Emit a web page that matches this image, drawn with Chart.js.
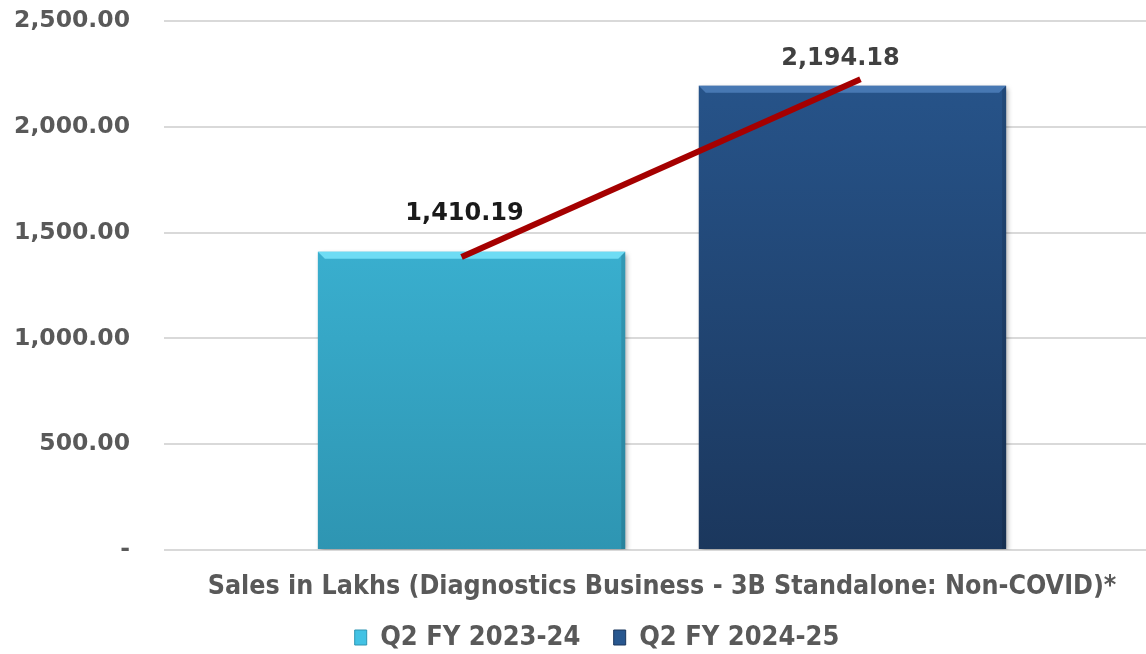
<!DOCTYPE html>
<html>
<head>
<meta charset="utf-8">
<script src="https://cdn.jsdelivr.net/npm/chart.js@4"></script>
<style>
  html, body { margin: 0; padding: 0; background: #fff; }
  #wrap { width: 1146px; height: 654px; }
</style>
</head>
<body>
<div id="wrap"><canvas id="myChart" width="1146" height="654"></canvas></div>
<script>
const categories = ["Sales in Lakhs (Diagnostics Business - 3B Standalone: Non-COVID)*"];
const seriesNames = ["Q2 FY 2023-24", "Q2 FY 2024-25"];
const salesPrev = [1410.19];
const salesCurr = [2194.18];
const yTicks = [0, 500, 1000, 1500, 2000, 2500];
// red trend line: start/end values relative to the two bars
const trendValues = [1385, 2225];

const gradStops = [
  ["#42c2e4", "#2e95b2"],
  ["#28578f", "#1b375d"]
];

function fmt(v) {
  if (v === 0) return "-";
  return v.toLocaleString("en-US", { minimumFractionDigits: 2, maximumFractionDigits: 2 });
}

function barGradient(ctx, idx) {
  const area = ctx.chart.chartArea;
  if (!area) return gradStops[idx][0];
  const g = ctx.chart.ctx.createLinearGradient(0, area.top, 0, area.bottom);
  g.addColorStop(0, gradStops[idx][0]);
  g.addColorStop(1, gradStops[idx][1]);
  return g;
}

const barDeco = {
  id: "barDeco",
  afterLayout(chart) {
    // legend sits a little right of centre in the original
    chart.legend.left += 24;
    chart.legend.right += 24;
  },
  beforeDatasetDraw(chart, args) {
    const c = chart.ctx;
    c.save();
    c.shadowColor = "rgba(0,0,0,0.35)";
    c.shadowBlur = 5;
    c.shadowOffsetX = 2;
    c.shadowOffsetY = 2;
  },
  afterDatasetDraw(chart, args) {
    const c = chart.ctx;
    c.restore();
    const tops = ["rgba(120,228,250,0.85)", "rgba(80,130,190,0.8)"];
    args.meta.data.forEach(bar => {
      const l = bar.x - bar.width / 2, r = bar.x + bar.width / 2;
      c.save();
      c.fillStyle = tops[args.index];
      c.beginPath();
      c.moveTo(l, bar.y);
      c.lineTo(r, bar.y);
      c.lineTo(r - 7, bar.y + 7);
      c.lineTo(l + 7, bar.y + 7);
      c.closePath();
      c.fill();
      c.fillStyle = "rgba(0,0,0,0.12)";
      c.beginPath();
      c.moveTo(r, bar.y);
      c.lineTo(r, bar.base);
      c.lineTo(r - 4, bar.base);
      c.lineTo(r - 4, bar.y + 4);
      c.closePath();
      c.fill();
      c.restore();
    });
  },
  afterDatasetsDraw(chart) {
    const c = chart.ctx;
    const y = chart.scales.y;
    const b0 = chart.getDatasetMeta(0).data[0];
    const b1 = chart.getDatasetMeta(1).data[0];
    // trend line
    c.save();
    c.strokeStyle = "#a50000";
    c.lineWidth = 6;
    c.beginPath();
    c.moveTo(b0.x - 10, y.getPixelForValue(trendValues[0]));
    c.lineTo(b1.x + 8, y.getPixelForValue(trendValues[1]));
    c.stroke();
    // value labels
    c.font = "bold 24px 'DejaVu Sans'";
    c.textAlign = "center";
    c.textBaseline = "middle";
    c.fillStyle = "#1a1a1a";
    c.fillText(fmt(salesPrev[0]), b0.x - 7, b0.y - 38);
    c.fillStyle = "#404040";
    c.fillText(fmt(salesCurr[0]), b1.x - 12, b1.y - 27);
    c.restore();
  }
};

const config = {
  type: "bar",
  data: {
    labels: categories,
    datasets: [
      {
        label: seriesNames[0],
        data: salesPrev,
        backgroundColor: ctx => barGradient(ctx, 0),
        categoryPercentage: 0.787,
        barPercentage: 0.807
      },
      {
        label: seriesNames[1],
        data: salesCurr,
        backgroundColor: ctx => barGradient(ctx, 1),
        categoryPercentage: 0.787,
        barPercentage: 0.807
      }
    ]
  },
  options: {
    responsive: false,
    animation: false,
    layout: { padding: { top: 21, right: 0, left: 0, bottom: -7 } },
    plugins: {
      tooltip: { enabled: false },
      legend: {
        position: "bottom",
        labels: {
          color: "#595959",
          font: { family: "'DejaVu Sans Condensed', 'DejaVu Sans'", weight: "bold", size: 27 },
          boxWidth: 12,
          boxHeight: 15,
          padding: 8,
          generateLabels(chart) {
            return seriesNames.map((n, i) => ({
              text: i === 0 ? n + "   " : n,
              fillStyle: gradStops[i][0],
              strokeStyle: gradStops[i][1],
              lineWidth: 1,
              datasetIndex: i,
              fontColor: "#595959"
            }));
          }
        }
      }
    },
    scales: {
      x: {
        grid: { display: false },
        border: { display: false },
        ticks: {
          color: "#595959",
          padding: 13,
          font: { family: "'DejaVu Sans Condensed', 'DejaVu Sans'", weight: "bold", size: 26.6 }
        }
      },
      y: {
        min: 0,
        max: 2500,
        afterBuildTicks(scale) { scale.ticks = yTicks.map(v => ({ value: v })); },
        afterFit(scale) {
          scale.width = 178;
          scale.paddingTop = 0;
          scale.paddingBottom = 0;
        },
        grid: { color: "#d9d9d9", lineWidth: 2, drawTicks: true, tickLength: 14 },
        border: { display: false },
        ticks: {
          color: "#595959",
          padding: 34,
          font: { family: "'DejaVu Sans'", weight: "bold", size: 23.5 },
          callback: v => fmt(v)
        }
      }
    }
  },
  plugins: [barDeco]
};

new Chart(document.querySelector("#myChart"), config);
</script>
</body>
</html>
